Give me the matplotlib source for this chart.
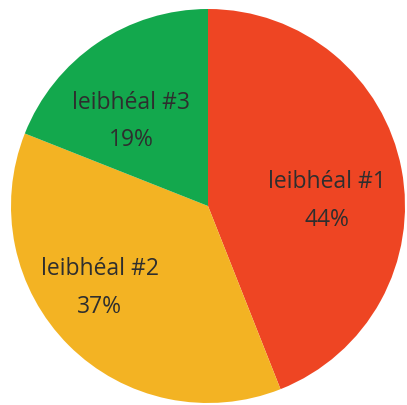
import matplotlib.pyplot as plt

labels = ["leibhéal #1", "leibhéal #2", "leibhéal #3"]
shares = [44, 37, 19]
colors = ["#EE4523", "#F3B323", "#13A84D"]

# label anchors (data units, pie radius = 1)
text_pos = [(0.605, 0.03), (-0.55, -0.41), (-0.39, 0.435)]

fig = plt.figure(figsize=(4.07, 4.06), dpi=100)
ax = fig.add_axes([0, 0, 1, 1])

ax.pie(shares, colors=colors, startangle=90, counterclock=False,
       wedgeprops={"linewidth": 0})

for (x, y), lbl, val in zip(text_pos, labels, shares):
    ax.text(x, y, f"{lbl}\n{val}%", ha="center", va="center",
            fontsize=16.5, family="Open Sans", color="#2e2e2e", linespacing=1.75)

ax.set_xlim(-208 / 197, 199 / 197)
ax.set_ylim(-199 / 197, 207 / 197)
ax.set_aspect("auto")
ax.axis("off")

fig.savefig("out.png", dpi=100, facecolor="white")
